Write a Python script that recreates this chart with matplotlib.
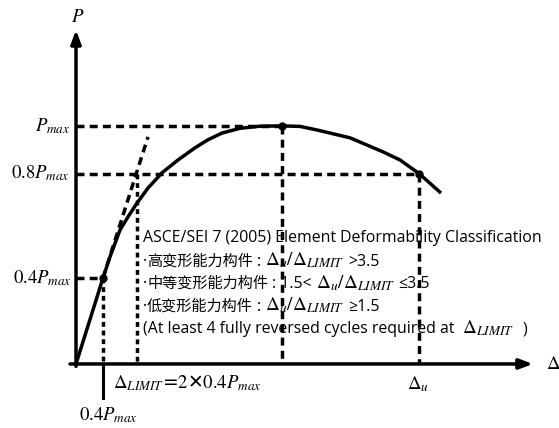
import re
import matplotlib
matplotlib.use("Agg")
import matplotlib.pyplot as plt
from matplotlib.offsetbox import TextArea, HPacker, DrawingArea, AnchoredOffsetbox

plt.rcParams['mathtext.fontset'] = 'stix'

# load-displacement curve (schematic units: displacement, P/Pmax)
curve_x = [0.0, 0.27, 0.34, 0.44, 0.52, 0.61, 0.72, 0.86, 1.02, 1.19, 1.32, 1.46, 1.64, 1.84, 2.06,
           2.24, 2.41, 2.74, 3.07, 3.24, 3.43, 3.65]
curve_y = [0.0, 0.361, 0.450, 0.563, 0.618, 0.676, 0.739, 0.803, 0.857, 0.908, 0.942, 0.970, 0.990, 0.999, 1.0,
           0.998, 0.983, 0.950, 0.891, 0.857, 0.80, 0.718]

p_max = 1.0
p_08 = 0.8
p_04 = 0.361
x_04 = 0.27          # displacement at 0.4Pmax
x_limit = 0.61       # delta limit
x_peak = 2.06
x_u = 3.43
secant_end = (0.72, 0.954)

lines = [
    "ASCE/SEI 7 (2005) Element Deformability Classification",
    "·高变形能力构件 : $\\Delta_u/\\Delta_{LIMIT}$ >3.5",
    "·中等变形能力构件 : 1.5< $\\Delta_u/\\Delta_{LIMIT}$ ≤3.5",
    "·低变形能力构件 : $\\Delta_u/\\Delta_{LIMIT}$ ≥1.5",
    "(At least 4 fully reversed cycles required at  $\\Delta_{LIMIT}$  )",
]

fig = plt.figure(figsize=(5.59, 4.28), dpi=100)
ax = fig.add_axes([0, 0, 1, 1])
ax.set_xlim(-0.76, 4.83)
ax.set_ylim(-0.269, 1.529)
ax.axis('off')

lw = 2.5
long_dash = (2.3, 1.5)
short_dash = (1.4, 1.1)

# axes with arrows
ax.annotate('', xy=(0, 1.403), xytext=(0, -0.01),
            arrowprops=dict(arrowstyle='-|>,head_width=0.3,head_length=0.8',
                            lw=lw, color='black', shrinkA=0, shrinkB=0))
ax.annotate('', xy=(4.57, 0), xytext=(-0.06, 0),
            arrowprops=dict(arrowstyle='-|>,head_width=0.3,head_length=0.8',
                            lw=lw, color='black', shrinkA=0, shrinkB=0))

# reference dashed lines
ax.plot([0, x_peak], [p_max, p_max], color='black', lw=lw, dashes=long_dash)
ax.plot([0, x_u], [p_08, p_08], color='black', lw=lw, dashes=long_dash)
ax.plot([0, x_04], [p_04, p_04], color='black', lw=lw, dashes=long_dash)
ax.plot([x_peak, x_peak], [p_max, 0], color='black', lw=lw, dashes=long_dash)
ax.plot([x_u, x_u], [p_08, 0], color='black', lw=lw, dashes=long_dash)
ax.plot([x_04, x_04], [p_04, 0], color='black', lw=lw, dashes=short_dash)
ax.plot([x_limit, x_limit], [p_08, 0], color='black', lw=lw, dashes=short_dash)
ax.plot([x_04, secant_end[0]], [p_04, secant_end[1]], color='black', lw=lw, dashes=long_dash)
ax.plot([x_04, x_04], [0, -0.143], color='black', lw=2.2)

# curve
ax.plot(curve_x, curve_y, color='black', lw=lw, solid_capstyle='butt', solid_joinstyle='round')
ax.plot([x_04, x_peak, x_u], [p_04, p_max, p_08], 'o', color='black', ms=5)

# labels
ms = 13.5
ax.text(0.02, 1.46, '$P$', fontsize=ms, ha='center', va='center')
ax.text(4.77, 0, '$\\Delta$', fontsize=ms, ha='center', va='center')
ax.text(-0.06, p_max, '$P_{max}$', fontsize=ms, ha='right', va='center')
ax.text(-0.06, p_08, '$0.8P_{max}$', fontsize=ms, ha='right', va='center')
ax.text(-0.04, p_04, '$0.4P_{max}$', fontsize=ms, ha='right', va='center')
ax.text(0.37, -0.08, '$\\Delta_{LIMIT}$=$2$✕$0.4P_{max}$', fontsize=ms,
        ha='left', va='center', family='DejaVu Sans')
ax.text(0.32, -0.215, '$0.4P_{max}$', fontsize=ms, ha='center', va='center')
ax.text(x_u - 0.01, -0.085, '$\\Delta_u$', fontsize=ms, ha='center', va='center')

# classification text: latin, CJK and math pieces packed on a common baseline
latin_props = dict(fontsize=11.4, family=['Open Sans', 'DejaVu Sans', 'Noto Sans CJK SC'])
cjk_props = dict(fontsize=10.9, family=['Noto Sans CJK SC'])
math_props = dict(fontsize=13.8)
tok = re.compile(r'[\u4e00-\u9fff]+|\s+|[^\u4e00-\u9fff\s](?:[^\u4e00-\u9fff]*[^\u4e00-\u9fff\s])?')


def line_box(s):
    parts = []
    for j, chunk in enumerate(s.split('$')):
        if j % 2 == 1:
            parts.append(TextArea('$' + chunk + '$', textprops=math_props))
            continue
        for t in tok.findall(chunk):
            if t.isspace():
                parts.append(DrawingArea(2.8 * len(t), 1))
            elif '\u4e00' <= t[0] <= '\u9fff':
                parts.append(TextArea(t, textprops=cjk_props))
            else:
                parts.append(TextArea(t, textprops=latin_props))
    return HPacker(children=parts, align='baseline', pad=0, sep=0)


y0 = (364 - 238) / 238.0
for i, s in enumerate(lines):
    box = AnchoredOffsetbox(loc='center left', child=line_box(s), pad=0, borderpad=0,
                            frameon=False, bbox_to_anchor=(0.67, y0 - i * 0.0945),
                            bbox_transform=ax.transData)
    ax.add_artist(box)

fig.savefig('out.png', dpi=100)
